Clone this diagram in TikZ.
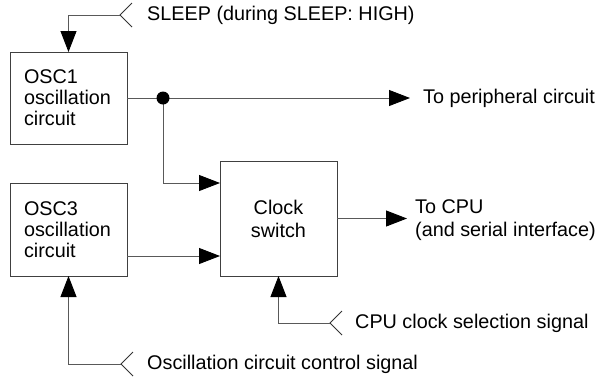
\documentclass[tikz,border=0pt]{standalone}
\usepackage{fontspec}
\setmainfont{Liberation Sans}
\usetikzlibrary{arrows.meta,calc}
\begin{document}
\begin{tikzpicture}[x=1pt,y=-1pt,
  every node/.style={font=\fontsize{19.8}{21}\selectfont},
  blk/.style={draw=black!75,line width=0.9pt,minimum width=117pt,inner sep=0pt,outer sep=0pt},
  oscblk/.style={blk,minimum height=92pt,text width=89pt,align=left},
  wire/.style={draw=black!65,line width=0.9pt},
  arr/.style={wire,-{Triangle[length=21pt,width=16pt,color=black]}},
  lbl/.style={inner sep=0pt,anchor=west,align=left},
  sig/.style={draw=black!80,line width=0.8pt}
]
\useasboundingbox (0,0) rectangle (605,381);
% blocks
\node[oscblk] (osc1) at (68.5,98) {OSC1\\oscillation\\circuit};
\node[oscblk,minimum height=93pt] (osc3) at (68.5,229.5) {OSC3\\oscillation\\circuit};
\node[blk,minimum height=115pt,align=center,font=\fontsize{19.8}{23}\selectfont] (clk) at (278.5,218.5) {Clock\\switch};
% junction
\coordinate (j) at (163,98);
\draw[wire] (osc1.east) -- (j);
\coordinate (per) at (410,98);
\draw[arr] (j) -- (per);
\node[lbl] (perl) at (423,98) {To peripheral circuit};
\draw[arr] (j) |- ([yshift=35.5pt]clk.west);
\fill (j) circle (6.5pt);
% OSC3 to clock
\draw[arr] ($(osc3.east)+(0,26.5)$) coordinate (o3o) -- (o3o -| clk.west);
% clock out
\coordinate (cpu) at (407,218.5);
\draw[arr] (clk.east) -- (cpu);
\node[lbl,font=\fontsize{19.8}{23}\selectfont] (cpul) at (415,220) {To CPU\\(and serial interface)};
% SLEEP signal
\coordinate (s1) at (120,15);
\draw[sig] (132,3) -- (s1) -- (132,27);
\draw[arr] (s1) -| (osc1.north);
\node[lbl] (s1l) at (147,15) {SLEEP (during SLEEP: HIGH)};
% CPU clock selection
\coordinate (s2) at (330,323);
\draw[sig] (342,311) -- (s2) -- (342,335);
\draw[arr] (s2) -| (clk.south);
\node[lbl] (s2l) at (355,323) {CPU clock selection signal};
% oscillation control
\coordinate (s3) at (121,364);
\draw[sig] (133,352) -- (s3) -- (133,376);
\draw[arr] (s3) -| (osc3.south);
\node[lbl] (s3l) at (147,364) {Oscillation circuit control signal};
\end{tikzpicture}
\end{document}
